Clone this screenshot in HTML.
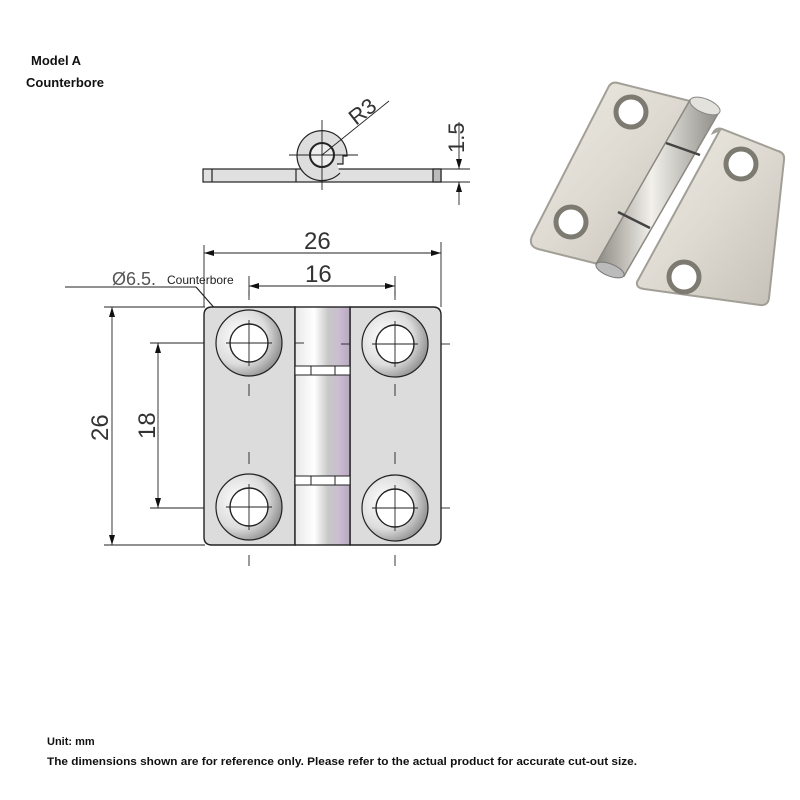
<!DOCTYPE html>
<html><head><meta charset="utf-8"><style>
html,body{margin:0;padding:0;background:#fff;}
svg{display:block;font-family:"Liberation Sans",sans-serif;}
</style></head><body>
<svg width="800" height="800" viewBox="0 0 800 800" xmlns="http://www.w3.org/2000/svg">
<defs>
<linearGradient id="pin" x1="0" x2="1" y1="0" y2="0">
<stop offset="0" stop-color="#e8e8e8"/><stop offset="0.35" stop-color="#fff"/><stop offset="0.6" stop-color="#c8c8c8"/><stop offset="0.8" stop-color="#cbbdd0"/><stop offset="1" stop-color="#b8a8c0"/>
</linearGradient>
<radialGradient id="cb" cx="0.35" cy="0.4" r="0.7">
<stop offset="0" stop-color="#fff"/><stop offset="0.6" stop-color="#ddd"/><stop offset="1" stop-color="#888"/>
</radialGradient>
<linearGradient id="metal" x1="0" x2="1" y1="0" y2="1">
<stop offset="0" stop-color="#efece4"/><stop offset="0.5" stop-color="#dedad2"/><stop offset="1" stop-color="#c4c0b8"/>
</linearGradient>
<linearGradient id="pinp" x1="0" x2="1" y1="0" y2="0">
<stop offset="0" stop-color="#8a8880"/><stop offset="0.45" stop-color="#f2f0ea"/><stop offset="1" stop-color="#8e8c86"/>
</linearGradient>
<marker id="ar" markerWidth="10" markerHeight="6" refX="10" refY="3" orient="auto-start-reverse" markerUnits="userSpaceOnUse"><path d="M0,0 L10,3 L0,6z" fill="#111"/></marker>
</defs>
<rect width="800" height="800" fill="#fff"/>

<text x="31" y="65" font-size="13" font-weight="bold" fill="#111">Model A</text>
<text x="26" y="87" font-size="13" font-weight="bold" fill="#111">Counterbore</text>

<!-- side view -->
<g stroke="#222" stroke-width="1.2" fill="#ddd">
<rect x="203" y="169" width="238" height="13" fill="#e0e0e0"/>
<line x1="212" y1="169" x2="212" y2="182"/>
<rect x="433" y="169" width="8" height="13" fill="#bbb"/>
<path d="M340,173 A25,25 0 1 1 347,156 L343,156 L343,164 L337,164" fill="#ddd"/>
<line x1="296" y1="169" x2="296" y2="182"/>
<circle cx="322" cy="155" r="12" fill="#eee" stroke-width="2"/>
</g>
<g stroke="#222" stroke-width="0.9" fill="none">
<line x1="289" y1="155" x2="358" y2="155"/><line x1="322" y1="120" x2="322" y2="190"/>
<line x1="322" y1="155" x2="389" y2="101"/>
<line x1="441" y1="169" x2="470" y2="169"/><line x1="441" y1="182" x2="470" y2="182"/>
<line x1="459" y1="122" x2="459" y2="169" marker-end="url(#ar)"/>
<line x1="459" y1="205" x2="459" y2="182" marker-end="url(#ar)"/>
</g>
<text x="0" y="0" font-size="22" fill="#333" transform="translate(356,126) rotate(-38)">R3</text>
<text x="0" y="0" font-size="22" fill="#333" transform="translate(464,153) rotate(-90)">1.5</text>

<!-- dimensions top -->
<g stroke="#222" stroke-width="0.9" fill="none">
<line x1="204" y1="245" x2="204" y2="307"/><line x1="441" y1="242" x2="441" y2="307"/>
<line x1="204" y1="253" x2="441" y2="253" marker-start="url(#ar)" marker-end="url(#ar)"/>
<line x1="249" y1="276" x2="249" y2="300"/><line x1="395" y1="276" x2="395" y2="300"/>
<line x1="249" y1="286" x2="395" y2="286" marker-start="url(#ar)" marker-end="url(#ar)"/>
<line x1="65" y1="287" x2="196" y2="287"/>
<line x1="196" y1="287" x2="232" y2="328" stroke-width="1.2"/>
<line x1="104" y1="307" x2="205" y2="307"/><line x1="104" y1="545" x2="205" y2="545"/>
<line x1="150" y1="343" x2="204" y2="343"/><line x1="150" y1="508" x2="204" y2="508"/>
<line x1="112" y1="307" x2="112" y2="545" marker-start="url(#ar)" marker-end="url(#ar)"/>
<line x1="158" y1="343" x2="158" y2="508" marker-start="url(#ar)" marker-end="url(#ar)"/>
</g>
<text x="304" y="249" font-size="24" fill="#333">26</text>
<text x="305" y="282" font-size="24" fill="#333">16</text>
<text x="112" y="285" font-size="18" fill="#555">Ø6.5.</text>
<text x="167" y="284" font-size="12" fill="#222">Counterbore</text>
<text x="0" y="0" font-size="24" fill="#333" transform="translate(108,441) rotate(-90)">26</text>
<text x="0" y="0" font-size="24" fill="#333" transform="translate(155,439) rotate(-90)">18</text>

<!-- front view -->
<g stroke="#222" stroke-width="1.4">
<path d="M212,307 L295,307 L295,545 L212,545 Q204,545 204,537 L204,315 Q204,307 212,307z" fill="#dcdcdc"/>
<path d="M350,307 L433,307 Q441,307 441,315 L441,537 Q441,545 433,545 L350,545z" fill="#dcdcdc"/>
<rect x="295" y="307" width="55" height="238" fill="url(#pin)"/>
<rect x="295" y="366" width="55" height="9" fill="#fff" stroke-width="1"/>
<rect x="295" y="476" width="55" height="9" fill="#fff" stroke-width="1"/>
<line x1="311" y1="366" x2="311" y2="375" stroke-width="1"/><line x1="335" y1="366" x2="335" y2="375" stroke-width="1"/>
<line x1="311" y1="476" x2="311" y2="485" stroke-width="1"/><line x1="335" y1="476" x2="335" y2="485" stroke-width="1"/>
</g>
<g stroke="#222">
<circle cx="249" cy="343" r="33" fill="url(#cb)" stroke-width="1.2"/><circle cx="249" cy="343" r="19" fill="#fff" stroke-width="1.4"/>
<circle cx="395" cy="344" r="33" fill="url(#cb)" stroke-width="1.2"/><circle cx="395" cy="344" r="19" fill="#fff" stroke-width="1.4"/>
<circle cx="249" cy="507" r="33" fill="url(#cb)" stroke-width="1.2"/><circle cx="249" cy="507" r="19" fill="#fff" stroke-width="1.4"/>
<circle cx="395" cy="508" r="33" fill="url(#cb)" stroke-width="1.2"/><circle cx="395" cy="508" r="19" fill="#fff" stroke-width="1.4"/>
</g>
<g stroke="#222" stroke-width="0.9">
<line x1="226" y1="343" x2="272" y2="343"/><line x1="249" y1="320" x2="249" y2="366"/>
<line x1="372" y1="344" x2="418" y2="344"/><line x1="395" y1="321" x2="395" y2="367"/>
<line x1="226" y1="507" x2="272" y2="507"/><line x1="249" y1="484" x2="249" y2="530"/>
<line x1="372" y1="508" x2="418" y2="508"/><line x1="395" y1="485" x2="395" y2="531"/>
<line x1="249" y1="384" x2="249" y2="396"/><line x1="249" y1="452" x2="249" y2="464"/>
<line x1="395" y1="384" x2="395" y2="396"/><line x1="395" y1="452" x2="395" y2="464"/>
<line x1="249" y1="555" x2="249" y2="566"/><line x1="395" y1="555" x2="395" y2="566"/>
<line x1="249" y1="290" x2="249" y2="296"/><line x1="395" y1="290" x2="395" y2="296"/>
<line x1="295" y1="343" x2="304" y2="343"/><line x1="341" y1="344" x2="350" y2="344"/>
<line x1="441" y1="344" x2="450" y2="344"/><line x1="441" y1="508" x2="450" y2="508"/>
</g>

<!-- photo -->
<g>
<path d="M618,83 Q611,81 608,88 L532,236 Q528,246 538,249 L598,264 L690,101z" fill="url(#metal)" stroke="#a29f97" stroke-width="2"/>
<path d="M722,129 Q716,127 713,133 L720,130 L637,282 Q636,288 644,289 L760,305 Q768,306 769,298 L784,160 Q785,153 778,151z" fill="url(#metal)" stroke="#a29f97" stroke-width="2"/>
<path d="M690,100 L719,112 L624,276 L596,264z" fill="url(#pinp)" stroke="#8a8880" stroke-width="1.5"/>
<ellipse cx="705" cy="106" rx="16" ry="7" transform="rotate(22 705 106)" fill="#e4e2dc" stroke="#888"/>
<line x1="666" y1="143" x2="700" y2="155" stroke="#444" stroke-width="2.5"/>
<line x1="618" y1="212" x2="650" y2="228" stroke="#444" stroke-width="2.5"/>
<ellipse cx="610" cy="270" rx="15" ry="6" transform="rotate(22 610 270)" fill="#bbb" stroke="#777"/>
<g stroke="#7d7a72" stroke-width="5" fill="#fff">
<circle cx="631" cy="112" r="15"/><circle cx="571" cy="222" r="15"/>
<circle cx="741" cy="164" r="15"/><circle cx="684" cy="277" r="15"/>
</g>
</g>

<text x="47" y="745" font-size="11" font-weight="bold" fill="#111">Unit: mm</text>
<text x="47" y="765" font-size="11" font-weight="bold" fill="#111" textLength="590" lengthAdjust="spacingAndGlyphs">The dimensions shown are for reference only. Please refer to the actual product for accurate cut-out size.</text>
</svg>
</body></html>
